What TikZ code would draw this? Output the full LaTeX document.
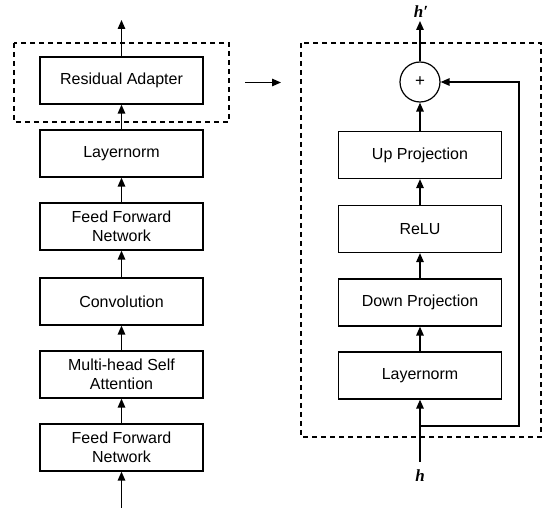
\documentclass[tikz,border=0pt]{standalone}
\usepackage{fontspec}
\setmainfont{Liberation Sans}
\newfontfamily\hfont{Liberation Serif}
\usetikzlibrary{arrows.meta}
\tikzset{
  blk/.style={draw, line width=1.2pt, minimum width=163pt, minimum height=47pt, align=center, inner sep=0pt, font=\fontsize{16}{19.3}\selectfont},
  conn/.style={line width=1.4pt, -{Triangle[length=9pt,width=7.5pt]}},
  dbox/.style={draw, line width=1.2pt, dash pattern=on 5pt off 4pt},
  lbl/.style={font=\hfont\bfseries\itshape\fontsize{17}{19}\selectfont, inner sep=0pt}
}
\begin{document}
\begin{tikzpicture}[x=1pt,y=-1pt]
\useasboundingbox (0,0) rectangle (542,508);
% left column
\node[blk] (ra) at (121.5,80.5) {Residual Adapter};
\node[blk] (ln) at (121.5,153.5) {Layernorm};
\node[blk] (ff) at (121.5,226.5) {Feed Forward\\Network};
\node[blk] (cv) at (121.5,301.5) {Convolution};
\node[blk] (mh) at (121.5,374.5) {Multi-head Self\\Attention};
\node[blk] (fb) at (121.5,447.5) {Feed Forward\\Network};
\coordinate (ltop) at (121.5,20);
\coordinate (lbot) at (121.5,508);
\draw[conn] (lbot) -- (fb);
\draw[conn] (fb) -- (mh);
\draw[conn] (mh) -- (cv);
\draw[conn] (cv) -- (ff);
\draw[conn] (ff) -- (ln);
\draw[conn] (ln) -- (ra);
\draw[conn] (ra) -- (ltop);
\draw[dbox] (14,43) rectangle (229,122);
% middle arrow
\coordinate (ma) at (245,82.5);
\coordinate (mb) at (281,82.5);
\draw[conn] (ma) -- (mb);
% right column
\node[draw, circle, line width=1.2pt, minimum size=40pt, inner sep=0pt, font=\fontsize{17}{19}\selectfont] (plus) at (420,82) {+};
\node[blk] (up) at (420,155) {Up Projection};
\node[blk] (re) at (420,229) {ReLU};
\node[blk] (dn) at (420,302.5) {Down Projection};
\node[blk] (rl) at (420,375.5) {Layernorm};
\node[lbl] (hp) at (421,12) {h′};
\node[lbl] (h) at (420,476) {h};
\coordinate (hin) at (420,462);
\coordinate (hout) at (420,21);
\coordinate (split) at (420,426);
\coordinate (corner) at (519,426);
\draw[conn] (hin) -- (rl);
\draw[conn] (rl) -- (dn);
\draw[conn] (dn) -- (re);
\draw[conn] (re) -- (up);
\draw[conn] (up) -- (plus);
\draw[conn] (plus) -- (hout);
\draw[conn] (split) -- (corner) |- (plus.east);
\draw[dbox] (301,43) rectangle (541,437);
\end{tikzpicture}
\end{document}
